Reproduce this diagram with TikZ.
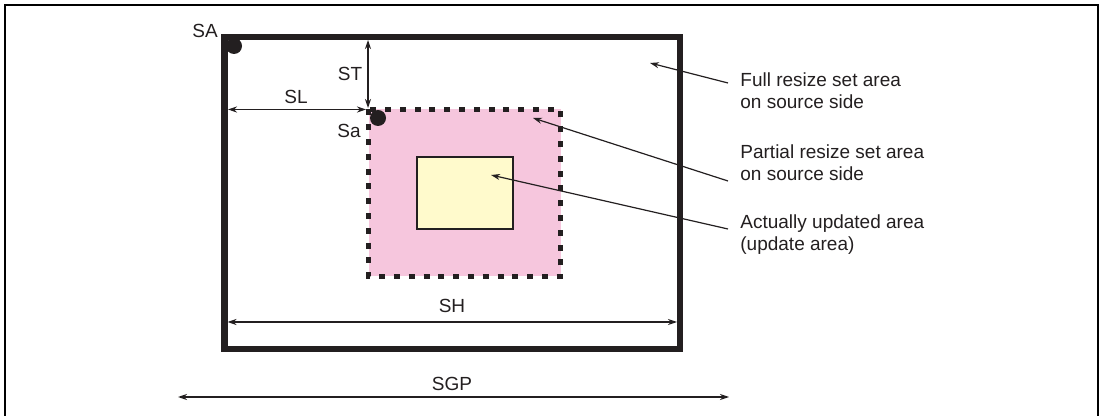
\documentclass[tikz,border=0pt]{standalone}
\usepackage{fontspec}
\setmainfont{Liberation Sans}
\usetikzlibrary{arrows.meta}
\definecolor{inkgray}{RGB}{35,31,32}
\definecolor{resizepink}{RGB}{246,198,221}
\definecolor{updateyellow}{RGB}{255,250,204}

\begin{document}
\begin{tikzpicture}[x=0.5pt, y=-0.5pt, >={Stealth[length=4.5pt,width=3pt]},
  font=\fontsize{9.5}{11}\selectfont, inkgray]
  \useasboundingbox (0,0) rectangle (1102,416);

  % --- 1. 外枠 ---
  \draw[black, line width=1pt] (5,416) -- (5,5) -- (1098,5) -- (1098,416);

  % --- 2. 全体リサイズ設定領域 (太枠) ---
  \coordinate (SAcorner) at (224.5,37);
  \coordinate (SAend) at (680,349);
  \draw[line width=3.2pt] (SAcorner) rectangle (SAend);

  % --- 3. 部分リサイズ設定領域 (ピンク・破線) ---
  \coordinate (Sacorner) at (368.5,109.5);
  \coordinate (Saend) at (560.5,276.5);
  \fill[resizepink] (Sacorner) rectangle (Saend);
  \draw[line width=2.9pt, dash pattern=on 3pt off 4.4pt] (Sacorner) rectangle (Saend);

  % --- 4. 実際の更新領域 (黄色) ---
  \coordinate (updcorner) at (417,157);
  \coordinate (updend) at (513,229);
  \draw[fill=updateyellow, line width=0.6pt] (updcorner) rectangle (updend);

  % --- 5. 始点の黒丸とラベル ---
  \fill (234,46) circle (4pt);
  \fill (378,118) circle (4pt);
  \node (SAlabel) at (205,31) {SA};
  \node (Salabel) at (349,130.5) {Sa};

  % --- 6. 寸法矢印 (ST, SL, SH, SGP) ---
  \coordinate (STtop) at (368,40);
  \coordinate (STbot) at (368,108);
  \draw[<->, line width=0.6pt] (STtop) -- (STbot);
  \node (STlabel) at (350,73.5) {ST};

  \coordinate (SLleft) at (228,109.5);
  \coordinate (SLright) at (366,109.5);
  \draw[<->, line width=0.6pt] (SLleft) -- (SLright);
  \node (SLlabel) at (296,97) {SL};

  \coordinate (SHleft) at (227.5,322);
  \coordinate (SHright) at (677,322);
  \draw[<->, line width=0.6pt] (SHleft) -- (SHright);
  \node (SHlabel) at (452,306) {SH};

  \coordinate (SGPleft) at (178,397);
  \coordinate (SGPright) at (729,397);
  \draw[<->, line width=0.6pt] (SGPleft) -- (SGPright);
  \node (SGPlabel) at (452,384) {SGP};

  % --- 7. 右側の説明文と引き出し線 ---
  \node[anchor=west, align=left, inner sep=1pt] (fullarea) at (738,91)
    {Full resize set area\\on source side};
  \node[anchor=west, align=left, inner sep=1pt] (partarea) at (738,163)
    {Partial resize set area\\on source side};
  \node[anchor=west, align=left, inner sep=1pt] (updarea) at (738,235)
    {Actually updated area\\(update area)};

  \coordinate (fulltip) at (650,63);
  \coordinate (parttip) at (533,118);
  \coordinate (updtip) at (491,175);
  \draw[->, line width=0.6pt] ([shift={(-10,-8)}]fullarea.west) -- (fulltip);
  \draw[->, line width=0.6pt] ([shift={(-10,18)}]partarea.west) -- (parttip);
  \draw[->, line width=0.6pt] ([shift={(-10,-6)}]updarea.west) -- (updtip);

\end{tikzpicture}
\end{document}
